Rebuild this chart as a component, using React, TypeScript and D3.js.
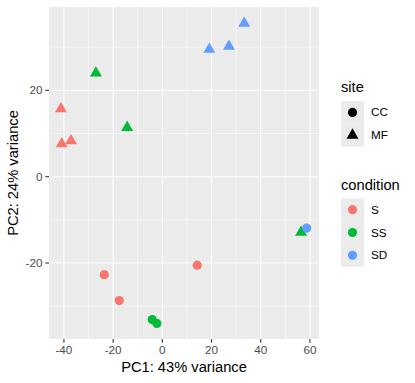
import React from "react";
import * as d3 from "d3";

const pc1 = [33.3, 19.1, 27.1, -27.0, -14.3, -41.2, -40.9, -37.1, 56.4, 58.7, 14.2, -23.6, -17.5, -4.1, -2.2];
const pc2 = [35.5, 29.5, 30.2, 24.0, 11.4, 15.7, 7.6, 8.3, -12.9, -11.9, -20.5, -22.7, -28.7, -33.1, -34.0];
const site = ["MF", "MF", "MF", "MF", "MF", "MF", "MF", "MF", "MF", "CC", "CC", "CC", "CC", "CC", "CC"];
const condition = ["SD", "SD", "SD", "SS", "SS", "S", "S", "S", "SS", "SD", "S", "S", "S", "SS", "SS"];

const siteLevels = ["CC", "MF"];
const conditionLevels = ["S", "SS", "SD"];
const conditionColors = ["#F8766D", "#00BA38", "#619CFF"];
const xTicks = [-40, -20, 0, 20, 40, 60];
const xMinor = [-30, -10, 10, 30, 50];
const yTicks = [-20, 0, 20];
const yMinor = [-30, -10, 10, 30];

const W = 415, H = 383;
const L = 49, R = 319, T = 7, B = 339;
const FONT = "'Liberation Sans', Arial, Helvetica, sans-serif";

export default function App() {
  const x = d3.scaleLinear().domain([-46.06, 63.7]).range([L, R]);
  const y = d3.scaleLinear().domain([-37.6, 39.3]).range([B, T]);
  const color = d3.scaleOrdinal<string, string>().domain(conditionLevels).range(conditionColors);
  const circle = d3.symbol().type(d3.symbolCircle).size(66)();
  const tri = d3.symbol().type(d3.symbolTriangle).size(62)();
  const shape = (s: string) => (s === "CC" ? circle : tri);

  const keyX = 341, keyW = 23, keyH = 22.8;
  const siteTop = 101, condTop = 198.3;

  return (
    <svg width={W} height={H} style={{ position: "absolute", left: 0, top: 0, background: "#fff" }} fontFamily={FONT}>
      <rect x={L} y={T} width={R - L} height={B - T} fill="#EBEBEB" />
      {xMinor.map((v) => (
        <line key={"xm" + v} x1={x(v)} x2={x(v)} y1={T} y2={B} stroke="#fff" strokeWidth={0.53} />
      ))}
      {yMinor.map((v) => (
        <line key={"ym" + v} x1={L} x2={R} y1={y(v)} y2={y(v)} stroke="#fff" strokeWidth={0.53} />
      ))}
      {xTicks.map((v) => (
        <line key={"xM" + v} x1={x(v)} x2={x(v)} y1={T} y2={B} stroke="#fff" strokeWidth={1.07} />
      ))}
      {yTicks.map((v) => (
        <line key={"yM" + v} x1={L} x2={R} y1={y(v)} y2={y(v)} stroke="#fff" strokeWidth={1.07} />
      ))}
      {pc1.map((v, i) => (
        <path key={"p" + i} d={shape(site[i]) as string} transform={`translate(${x(v)},${y(pc2[i])})`} fill={color(condition[i])} />
      ))}
      {xTicks.map((v) => (
        <g key={"xt" + v}>
          <line x1={x(v)} x2={x(v)} y1={B} y2={B + 3.67} stroke="#333" strokeWidth={1.07} />
          <text x={x(v)} y={B + 15} textAnchor="middle" fontSize={11.7} fill="#4D4D4D">{v}</text>
        </g>
      ))}
      {yTicks.map((v) => (
        <g key={"yt" + v}>
          <line x1={L - 3.67} x2={L} y1={y(v)} y2={y(v)} stroke="#333" strokeWidth={1.07} />
          <text x={L - 6.6} y={y(v)} dy="0.35em" textAnchor="end" fontSize={11.7} fill="#4D4D4D">{v}</text>
        </g>
      ))}
      <text x={(L + R) / 2} y={372} textAnchor="middle" fontSize={14.7} fill="#000">PC1: 43% variance</text>
      <text transform={`translate(18,${(T + B) / 2}) rotate(-90)`} textAnchor="middle" fontSize={14.7} fill="#000">PC2: 24% variance</text>

      <text x={keyX} y={92} fontSize={14.7} fill="#000">site</text>
      {siteLevels.map((s, i) => (
        <g key={"ls" + s}>
          <rect x={keyX} y={siteTop + i * keyH} width={keyW} height={keyH} fill="#EBEBEB" />
          <path d={shape(s) as string} transform={`translate(${keyX + keyW / 2},${siteTop + i * keyH + keyH / 2})`} fill="#000" />
          <text x={371} y={siteTop + i * keyH + keyH / 2} dy="0.35em" fontSize={11.7} fill="#000">{s}</text>
        </g>
      ))}
      <text x={keyX} y={189.5} fontSize={14.7} fill="#000">condition</text>
      {conditionLevels.map((c, i) => (
        <g key={"lc" + c}>
          <rect x={keyX} y={condTop + i * keyH} width={keyW} height={keyH} fill="#EBEBEB" />
          <path d={circle as string} transform={`translate(${keyX + keyW / 2},${condTop + i * keyH + keyH / 2})`} fill={color(c)} />
          <text x={371} y={condTop + i * keyH + keyH / 2} dy="0.35em" fontSize={11.7} fill="#000">{c}</text>
        </g>
      ))}
    </svg>
  );
}
